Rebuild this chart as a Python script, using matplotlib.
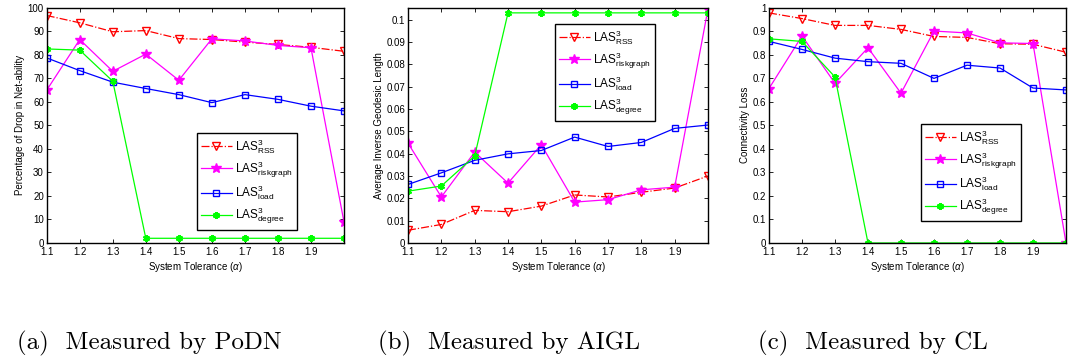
import matplotlib
matplotlib.use("Agg")
import matplotlib.pyplot as plt

plt.rcParams['font.family'] = ['Liberation Sans', 'DejaVu Sans']
plt.rcParams['mathtext.fontset'] = 'custom'
plt.rcParams['mathtext.rm'] = 'Liberation Sans'
plt.rcParams['mathtext.it'] = 'Liberation Sans:italic'
plt.rcParams['mathtext.bf'] = 'Liberation Sans:bold'

# ---------------- data ----------------
tolerance = [1.1, 1.2, 1.3, 1.4, 1.5, 1.6, 1.7, 1.8, 1.9, 2.0]
xtick_vals = [1.1, 1.2, 1.3, 1.4, 1.5, 1.6, 1.7, 1.8, 1.9]

series_names = [r'LAS$^{3}_{\mathrm{RSS}}$', r'LAS$^{3}_{\mathrm{riskgraph}}$',
                r'LAS$^{3}_{\mathrm{load}}$', r'LAS$^{3}_{\mathrm{degree}}$']

# (a) PoDN
podn_rss = [96.6, 93.5, 89.7, 90.2, 86.8, 86.4, 85.3, 84.3, 83.1, 81.4]
podn_risk = [64.9, 86.4, 72.9, 80.2, 69.1, 86.7, 85.8, 83.9, 82.9, 8.9]
podn_load = [78.6, 73.2, 68.3, 65.6, 63.0, 59.6, 63.0, 61.0, 58.1, 56.1]
podn_degree = [82.4, 81.9, 68.7, 2.0, 2.0, 2.0, 2.0, 2.0, 2.0, 2.0]

# (b) AIGL
aigl_rss = [0.0057, 0.0083, 0.0146, 0.0140, 0.0165, 0.0215, 0.0206, 0.0227, 0.0246, 0.0300]
aigl_risk = [0.0447, 0.0206, 0.0407, 0.0268, 0.0440, 0.0183, 0.0194, 0.0238, 0.0250, 0.1048]
aigl_load = [0.0262, 0.0314, 0.0370, 0.0399, 0.0414, 0.0474, 0.0432, 0.0450, 0.0513, 0.0528]
aigl_degree = [0.0232, 0.0255, 0.0389, 0.1030, 0.1030, 0.1030, 0.1030, 0.1030, 0.1030, 0.1030]

# (c) CL
cl_rss = [0.977, 0.953, 0.924, 0.924, 0.907, 0.877, 0.873, 0.846, 0.844, 0.810]
cl_risk = [0.656, 0.879, 0.678, 0.829, 0.636, 0.900, 0.892, 0.850, 0.847, 0.0]
cl_load = [0.856, 0.822, 0.785, 0.770, 0.763, 0.699, 0.755, 0.743, 0.658, 0.650]
cl_degree = [0.867, 0.856, 0.705, 0.0, 0.0, 0.0, 0.0, 0.0, 0.0, 0.0]

ylabels = ['Percentage of Drop in Net-ability', 'Average Inverse Geodesic Length', 'Connectivity Loss']
xlabel = r'System Tolerance ($\alpha$)'
captions = ['(a)  Measured by PoDN', '(b)  Measured by AIGL', '(c)  Measured by CL']

# ---------------- styling ----------------
styles = [
    dict(color='red', linestyle='-.', marker='v', markerfacecolor='none', markeredgecolor='red', markersize=6),
    dict(color='magenta', linestyle='-', marker='*', markerfacecolor='magenta', markeredgecolor='magenta', markersize=7),
    dict(color='blue', linestyle='-', marker='s', markerfacecolor='none', markeredgecolor='blue', markersize=5),
    dict(color='lime', linestyle='-', marker=(6, 2, 0), markerfacecolor='lime', markeredgecolor='lime', markersize=5, markeredgewidth=1.5),
]

W, H = 1071, 364
fig = plt.figure(figsize=(W / 100, H / 100), dpi=100)

panels = [
    dict(left=46.7, right=344, data=[podn_rss, podn_risk, podn_load, podn_degree], ylim=(0, 100),
         yticks=[0, 10, 20, 30, 40, 50, 60, 70, 80, 90, 100],
         leg=(197, 133), cap_x=17),
    dict(left=408, right=708, data=[aigl_rss, aigl_risk, aigl_load, aigl_degree], ylim=(0, 0.1054),
         yticks=[0, 0.01, 0.02, 0.03, 0.04, 0.05, 0.06, 0.07, 0.08, 0.09, 0.1],
         leg=(555, 24), cap_x=378),
    dict(left=769, right=1066, data=[cl_rss, cl_risk, cl_load, cl_degree], ylim=(0, 1.0),
         yticks=[0, 0.1, 0.2, 0.3, 0.4, 0.5, 0.6, 0.7, 0.8, 0.9, 1.0],
         leg=(921, 124), cap_x=758),
]

top, bottom = 7.5, 243
for i, p in enumerate(panels):
    ax = fig.add_axes([p['left'] / W, 1 - bottom / H, (p['right'] - p['left']) / W, (bottom - top) / H])
    for name, ys, st in zip(series_names, p['data'], styles):
        ax.plot(tolerance, ys, label=name, linewidth=0.9, **st)
    ax.set_xlim(1.1, 2.0)
    ax.set_ylim(*p['ylim'])
    ax.set_xticks(xtick_vals)
    ax.set_xticklabels([f'{v:g}' for v in xtick_vals])
    ax.set_yticks(p['yticks'])
    ax.set_yticklabels([f'{v:g}' for v in p['yticks']])
    ax.tick_params(direction='in', top=True, right=True, labelsize=7, length=3, width=0.6, pad=2)
    ax.tick_params(axis='x', pad=3)
    for s in ax.spines.values():
        s.set_linewidth(1.0)
    ax.set_ylabel(ylabels[i], fontsize=7, labelpad=2)
    ax.set_xlabel(xlabel, fontsize=7, labelpad=2)
    lx = (p['leg'][0] - p['left']) / (p['right'] - p['left'])
    ly = (bottom - p['leg'][1]) / (bottom - top)
    leg = ax.legend(loc='upper left', bbox_to_anchor=(lx, ly), fontsize=8.5, frameon=True, fancybox=False,
                    edgecolor='black', framealpha=1, borderpad=0.35, labelspacing=0.3, handlelength=2.6,
                    handletextpad=0.3, borderaxespad=0)
    leg.get_frame().set_linewidth(1.0)
    fig.text(p['cap_x'] / W, 1 - 343 / H, captions[i], family='cmr10', fontsize=18, va='center', ha='left')

fig.savefig('out.png', dpi=100)
